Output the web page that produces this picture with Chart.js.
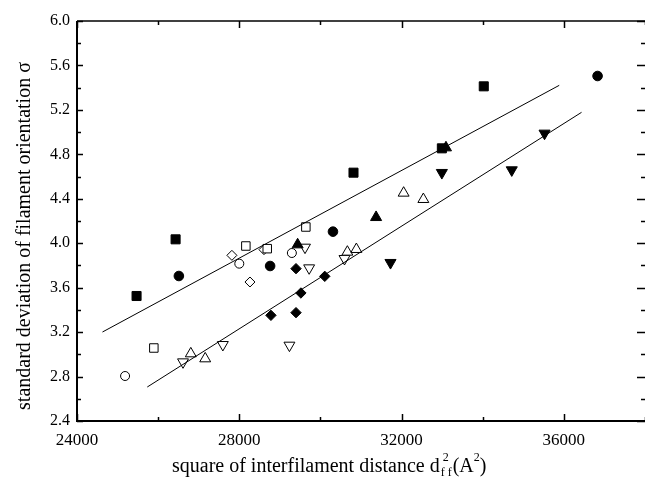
<!DOCTYPE html>
<html>
<head>
<meta charset="utf-8">
<script src="https://cdn.jsdelivr.net/npm/chart.js@4.4.1/dist/chart.umd.min.js"></script>
<style>
  html, body { margin: 0; padding: 0; background: #fff; }
  #wrap { width: 645px; height: 477px; }
</style>
</head>
<body>
<div id="wrap"><canvas id="c" width="645" height="477"></canvas></div>
<script>
// ---- data ----
const xTicks = [24000, 28000, 32000, 36000];
const yTicks = [2.4, 2.8, 3.2, 3.6, 4.0, 4.4, 4.8, 5.2, 5.6, 6.0];

const filledSquareX = [25468, 26430, 30815, 32993, 34026];
const filledSquareY = [3.525, 4.035, 4.635, 4.854, 5.412];

const filledCircleX = [26511, 28760, 30309, 36831];
const filledCircleY = [3.705, 3.795, 4.104, 5.505];

const openSquareX = [25894, 28162, 28689, 29641];
const openSquareY = [3.057, 3.975, 3.951, 4.146];

const openCircleX = [25185, 28000, 29296];
const openCircleY = [2.805, 3.816, 3.912];

const openDiamondX = [27818, 28263, 28608];
const openDiamondY = [3.891, 3.651, 3.942];

const filledDiamondX = [28780, 29398, 29398, 29519, 30107];
const filledDiamondY = [3.351, 3.771, 3.375, 3.552, 3.702];

const filledTriUpX = [29438, 31372, 33094];
const filledTriUpY = [3.987, 4.233, 4.860];

const openTriUpX = [26805, 27160, 30664, 30886, 32051, 32537];
const openTriUpY = [3.006, 2.961, 3.921, 3.945, 4.452, 4.395];

const openTriDownX = [26613, 27595, 29236, 29620, 29722, 30593];
const openTriDownY = [2.931, 3.087, 3.081, 3.963, 3.777, 3.861];

const filledTriDownX = [31727, 32993, 34716, 35524];
const filledTriDownY = [3.825, 4.635, 4.659, 4.989];

const upperFitX = [24628, 35886];
const upperFitY = [3.201, 5.421];
const lowerFitX = [25732, 36436];
const lowerFitY = [2.706, 5.178];

const yTitle = 'standard deviation of filament orientation σ';
const xTitleMain = 'square of interfilament distance d';
const xTitleSub = 'f f';
const xTitleSup = '2';
const xTitleTail1 = '(A';
const xTitleTail2 = ')';

// ---- build ----
const pts = (xs, ys) => xs.map((x, i) => ({ x: x, y: ys[i] }));
const FONT = '"Liberation Serif", "Times New Roman", serif';

function marker(xs, ys, style, filled, radius, rotation) {
  return {
    type: 'scatter',
    data: pts(xs, ys),
    pointStyle: style,
    pointRotation: rotation || 0,
    pointRadius: radius,
    pointHoverRadius: radius,
    backgroundColor: filled ? '#000' : '#fff',
    borderColor: '#000',
    borderWidth: 1,
    pointBorderWidth: 1,
    clip: false
  };
}
function fitLine(xs, ys) {
  return {
    type: 'line',
    data: pts(xs, ys),
    borderColor: '#000',
    borderWidth: 1,
    pointRadius: 0,
    fill: false,
    tension: 0
  };
}

const framePlugin = {
  id: 'frame',
  afterDraw(chart) {
    const ctx = chart.ctx;
    const a = chart.chartArea;
    const xs = chart.scales.x, ys = chart.scales.y;
    ctx.save();
    ctx.strokeStyle = '#000';
    // frame lines
    ctx.lineWidth = 2;
    ctx.beginPath();
    ctx.moveTo(a.left, a.top); ctx.lineTo(a.left, a.bottom); ctx.lineTo(a.right + 2, a.bottom);
    ctx.stroke();
    ctx.lineWidth = 1.5;
    ctx.beginPath();
    ctx.moveTo(a.left, a.top); ctx.lineTo(a.right + 2, a.top);
    ctx.stroke();
    ctx.lineWidth = 1.5;
    // y ticks (major + minor) on left and right, inward
    for (let v = 2.4; v <= 6.0001; v += 0.2) {
      const major = Math.abs(Math.round(v * 10) % 4) < 1e-6;
      const y = Math.round(ys.getPixelForValue(v)) + 0.5;
      ctx.beginPath();
      ctx.moveTo(a.left, y); ctx.lineTo(a.left + (major ? 6 : 4), y);
      ctx.moveTo(a.right, y); ctx.lineTo(a.right - (major ? 8 : 4), y);
      ctx.stroke();
    }
    // x ticks bottom and top, inward
    for (let v = 24000; v <= 38000; v += 2000) {
      const major = v % 4000 === 0;
      const x = Math.round(xs.getPixelForValue(v)) + 0.5;
      ctx.beginPath();
      ctx.moveTo(x, a.bottom); ctx.lineTo(x, a.bottom - (major ? 7 : 4));
      ctx.moveTo(x, a.top); ctx.lineTo(x, a.top + (major ? 7 : 4));
      ctx.stroke();
    }
    // axis titles
    ctx.fillStyle = '#000';
    ctx.font = '20px ' + FONT;
    ctx.textBaseline = 'alphabetic';
    // y title
    ctx.save();
    ctx.translate(30, 236);
    ctx.rotate(-Math.PI / 2);
    ctx.textAlign = 'center';
    ctx.fillText(yTitle, 0, 0);
    ctx.restore();
    // x title with sub/superscripts
    ctx.textAlign = 'left';
    let x = 172; const base = 472;
    ctx.font = '20px ' + FONT;
    ctx.fillText(xTitleMain, x, base);
    x += ctx.measureText(xTitleMain).width;
    ctx.font = '12px ' + FONT;
    const subW = ctx.measureText(xTitleSub).width;
    ctx.fillText(xTitleSub, x + 1, base + 4);
    ctx.fillText(xTitleSup, x + 3, base - 11);
    x += subW + 2;
    ctx.font = '20px ' + FONT;
    ctx.fillText(xTitleTail1, x, base);
    x += ctx.measureText(xTitleTail1).width;
    ctx.font = '12px ' + FONT;
    ctx.fillText(xTitleSup, x, base - 11);
    x += ctx.measureText(xTitleSup).width;
    ctx.font = '20px ' + FONT;
    ctx.fillText(xTitleTail2, x, base);
    ctx.restore();
  }
};

new Chart(document.getElementById('c'), {
  type: 'scatter',
  data: {
    datasets: [
      fitLine(upperFitX, upperFitY),
      fitLine(lowerFitX, lowerFitY),
      marker(openSquareX, openSquareY, 'rect', false, 6),
      marker(openCircleX, openCircleY, 'circle', false, 4.5),
      marker(openDiamondX, openDiamondY, 'rectRot', false, 5),
      marker(filledSquareX, filledSquareY, 'rect', true, 6.4),
      marker(filledCircleX, filledCircleY, 'circle', true, 4.8),
      marker(filledDiamondX, filledDiamondY, 'rectRot', true, 5.2),
      marker(filledTriUpX, filledTriUpY, 'triangle', true, 6.4),
      marker(openTriUpX, openTriUpY, 'triangle', false, 6.3),
      marker(openTriDownX, openTriDownY, 'triangle', false, 6.3, 180),
      marker(filledTriDownX, filledTriDownY, 'triangle', true, 6.4, 180)
    ]
  },
  options: {
    responsive: false,
    animation: false,
    layout: { autoPadding: false, padding: { top: 21, right: 0, left: 0, bottom: 0 } },
    plugins: { legend: { display: false }, tooltip: { enabled: false } },
    scales: {
      x: {
        type: 'linear',
        min: 24000, max: 38000,
        afterBuildTicks: s => { s.ticks = xTicks.map(v => ({ value: v })); },
        afterFit: s => { s.height = 56; s.paddingLeft = 0; s.paddingRight = 0; },
        grid: { display: false, drawTicks: false },
        border: { display: false },
        ticks: {
          padding: 9,
          color: '#000',
          font: { family: FONT, size: 17 },
          callback: v => String(v)
        }
      },
      y: {
        type: 'linear',
        min: 2.4, max: 6.0,
        afterBuildTicks: s => { s.ticks = yTicks.map(v => ({ value: v })); },
        afterFit: s => { s.width = 77; s.paddingTop = 0; s.paddingBottom = 0; },
        grid: { display: false, drawTicks: false },
        border: { display: false },
        ticks: {
          padding: 7,
          color: '#000',
          font: { family: FONT, size: 16 },
          callback: v => Number(v).toFixed(1)
        }
      }
    }
  },
  plugins: [framePlugin]
});
</script>
</body>
</html>
